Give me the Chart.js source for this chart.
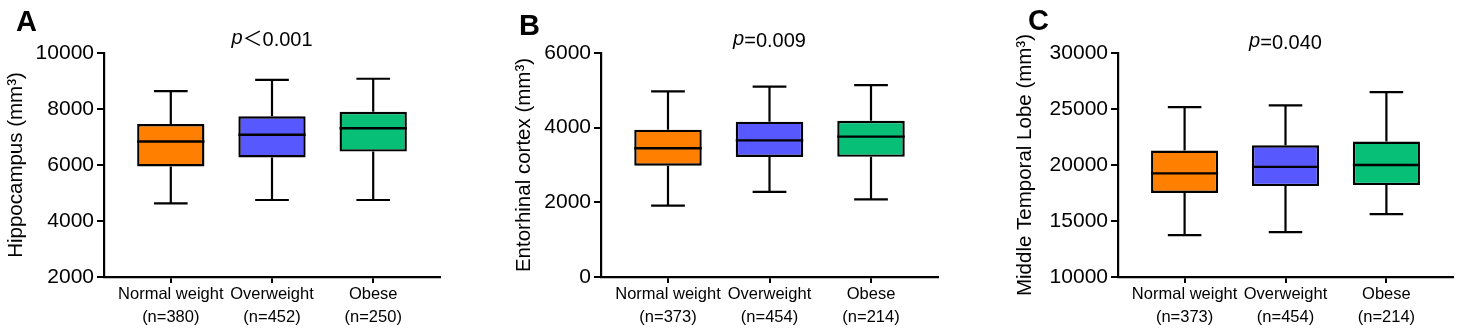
<!DOCTYPE html>
<html>
<head>
<meta charset="utf-8">
<script src="https://cdn.jsdelivr.net/npm/chart.js@4.4.1/dist/chart.umd.min.js"></script>
<style>
  body { margin: 0; background: #fff; width: 1462px; height: 336px; overflow: hidden; position: relative; }
  .panel { position: absolute; top: 0; height: 336px; }
</style>
</head>
<body>
<div class="panel" style="left:0px"><canvas id="g_A" width="490" height="336"></canvas></div>
<div class="panel" style="left:490px"><canvas id="g_B" width="485" height="336"></canvas></div>
<div class="panel" style="left:975px"><canvas id="g_C" width="487" height="336"></canvas></div>
<script>
const groups = ['Normal weight', 'Overweight', 'Obese'];
const colors = ['#FF8000', '#5858FF', '#08BF78'];

// A - Hippocampus
const nA = [380, 452, 250];
const minA = [4630, 4750, 4750];
const q1A = [5950, 6270, 6480];
const medA = [6840, 7080, 7310];
const q3A = [7460, 7740, 7900];
const maxA = [8640, 9040, 9080];
const ticksA = [2000, 4000, 6000, 8000, 10000];

// B - Entorhinal cortex
const nB = [373, 454, 214];
const minB = [1910, 2280, 2080];
const q1B = [2980, 3215, 3220];
const medB = [3450, 3660, 3760];
const q3B = [3945, 4160, 4185];
const maxB = [4970, 5100, 5140];
const ticksB = [0, 2000, 4000, 6000];

// C - Middle Temporal Lobe
const nC = [373, 454, 214];
const minC = [13740, 14000, 15620];
const q1C = [17500, 18120, 18210];
const medC = [19250, 19830, 20000];
const q3C = [21290, 21760, 22090];
const maxC = [25170, 25320, 26510];
const ticksC = [10000, 15000, 20000, 25000, 30000];

const FONT = '"Liberation Sans", Arial, Helvetica, sans-serif';
Chart.defaults.color = '#000';
Chart.defaults.font.family = FONT;

// whiskers + median, drawn with the chart's own scales
const boxPlugin = {
  id: 'boxWhiskers',
  beforeDatasetsDraw(chart, args, o) {
    const ctx = chart.ctx;
    const y = chart.scales.y;
    const meta = chart.getDatasetMeta(0);
    ctx.save();
    ctx.strokeStyle = '#000';
    ctx.lineWidth = 2.2;
    meta.data.forEach(function(bar, i) {
      const cap = bar.width / 4;
      const yMin = y.getPixelForValue(o.min[i]);
      const yMax = y.getPixelForValue(o.max[i]);
      const yQ1 = y.getPixelForValue(o.q1[i]);
      const yQ3 = y.getPixelForValue(o.q3[i]);
      ctx.beginPath();
      ctx.moveTo(bar.x, yQ3); ctx.lineTo(bar.x, yMax);
      ctx.moveTo(bar.x - cap, yMax); ctx.lineTo(bar.x + cap, yMax);
      ctx.moveTo(bar.x, yQ1); ctx.lineTo(bar.x, yMin);
      ctx.moveTo(bar.x - cap, yMin); ctx.lineTo(bar.x + cap, yMin);
      ctx.stroke();
    });
    ctx.restore();
  },
  afterDatasetsDraw(chart, args, o) {
    const ctx = chart.ctx;
    const y = chart.scales.y;
    const meta = chart.getDatasetMeta(0);
    ctx.save();
    ctx.strokeStyle = '#000';
    ctx.lineWidth = 2.4;
    meta.data.forEach(function(bar, i) {
      const yMed = y.getPixelForValue(o.med[i]);
      ctx.beginPath();
      ctx.moveTo(bar.x - bar.width / 2, yMed);
      ctx.lineTo(bar.x + bar.width / 2, yMed);
      ctx.stroke();
    });
    ctx.restore();
  }
};

// panel letter and p value
const headerPlugin = {
  id: 'header',
  afterDraw(chart, args, o) {
    const ctx = chart.ctx;
    const ca = chart.chartArea;
    ctx.save();
    ctx.fillStyle = '#000';
    ctx.textBaseline = 'alphabetic';
    ctx.textAlign = 'left';
    ctx.font = 'bold 29px ' + FONT;
    ctx.fillText(o.letter, o.letterX, o.letterY);
    ctx.font = 'italic 20px ' + FONT;
    const wp = ctx.measureText('p').width;
    ctx.font = '20px ' + FONT + ', "Noto Sans CJK SC"';
    const wr = ctx.measureText(o.rest).width;
    const x0 = (ca.left + ca.right) / 2 - (wp + wr) / 2;
    ctx.font = 'italic 20px ' + FONT;
    ctx.fillText('p', x0, o.pY - 2);
    ctx.font = '20px ' + FONT + ', "Noto Sans CJK SC"';
    ctx.fillText(o.rest, x0 + wp, o.pY);
    ctx.restore();
  }
};

function makePanel(id, p) {
  const ctx = document.getElementById(id).getContext('2d');
  const data = p.q1.map(function(v, i) {
    return { x: i, y: [p.q1[i], p.q3[i]] };
  });
  const config = {
    type: 'bar',
    data: {
      datasets: [{
        data: data,
        backgroundColor: colors,
        borderColor: '#000',
        borderWidth: 2.4,
        borderSkipped: false,
        categoryPercentage: 1,
        barPercentage: 0.665
      }]
    },
    options: {
      responsive: false,
      animation: false,
      layout: { padding: { top: 53, right: p.padR, bottom: 0, left: 0 } },
      plugins: {
        legend: { display: false },
        tooltip: { enabled: false },
        boxWhiskers: { min: p.min, q1: p.q1, med: p.med, q3: p.q3, max: p.max },
        header: { letter: p.letter, letterX: p.letterX, letterY: p.letterY, rest: p.rest, pY: p.pY }
      },
      scales: {
        x: {
          type: 'linear',
          offset: false,
          min: -0.66,
          max: 2.66,
          afterBuildTicks: function(scale) {
            scale.ticks = groups.map(function(g, i) { return { value: i }; });
          },
          afterFit: function(scale) { scale.height = 59; },
          grid: { display: true, offset: false, drawOnChartArea: false, drawTicks: true, tickLength: 6, color: '#000', lineWidth: 2 },
          border: { display: true, color: '#000', width: 2.2 },
          ticks: {
            padding: 0,
            maxRotation: 0,
            autoSkip: false,
            font: { size: 16.5, lineHeight: 1.38 },
            callback: function(v) { return [groups[v], '(n=' + p.n[v] + ')']; }
          }
        },
        y: {
          min: p.ticks[0],
          max: p.ticks[p.ticks.length - 1],
          afterBuildTicks: function(scale) {
            scale.ticks = p.ticks.map(function(t) { return { value: t }; });
          },
          afterFit: function(scale) { scale.width = p.yW; },
          grid: { display: true, drawOnChartArea: false, drawTicks: true, tickLength: 7, color: '#000', lineWidth: 2 },
          border: { display: true, color: '#000', width: 2.2 },
          ticks: {
            padding: 3,
            font: { size: 21 },
            callback: function(v) { return String(v); }
          },
          title: {
            display: true,
            text: p.title,
            font: { size: 20.5 },
            padding: { top: p.titlePad, bottom: 0 }
          }
        }
      }
    },
    plugins: [boxPlugin, headerPlugin]
  };
  return new Chart(ctx, config);
}

window.addEventListener('load', () => {
  makePanel('g_A', { n: nA, min: minA, q1: q1A, med: medA, q3: q3A, max: maxA, ticks: ticksA,
    title: 'Hippocampus (mm³)', yW: 104, padR: 50, titlePad: 4,
    letter: 'A', letterX: 16, letterY: 31, rest: '＜0.001', pY: 46 });
  makePanel('g_B', { n: nB, min: minB, q1: q1B, med: medB, q3: q3B, max: maxB, ticks: ticksB,
    title: 'Entorhinal cortex (mm³)', yW: 111, padR: 37, titlePad: 22,
    letter: 'B', letterX: 29, letterY: 35, rest: '=0.009', pY: 47 });
  makePanel('g_C', { n: nC, min: minC, q1: q1C, med: medC, q3: q3C, max: maxC, ticks: ticksC,
    title: 'Middle Temporal Lobe (mm³)', yW: 143, padR: 9, titlePad: 38,
    letter: 'C', letterX: 53, letterY: 30, rest: '=0.040', pY: 49 });
});
</script>
</body>
</html>
